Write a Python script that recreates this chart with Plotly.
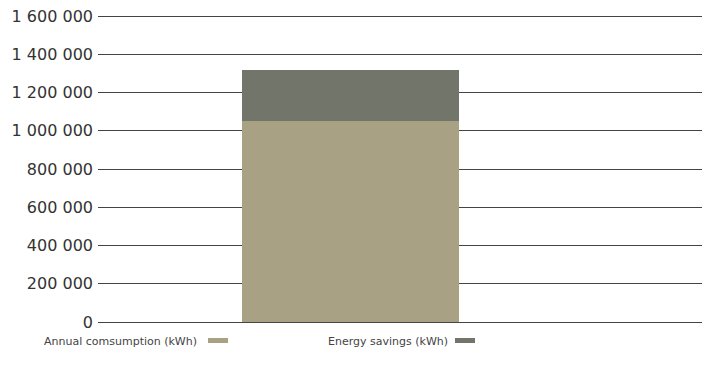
import plotly.graph_objects as go

# Values in kWh
categories = ["Building"]
annual_consumption = [1050000]
energy_savings = [270000]
y_ticks = [0, 200000, 400000, 600000, 800000, 1000000, 1200000, 1400000, 1600000]

series_names = ["Annual comsumption (kWh)", "Energy savings (kWh)"]
series_colors = ["#a8a184", "#72766a"]

fig = go.Figure()
fig.add_trace(go.Bar(x=[0], y=annual_consumption, name=series_names[0],
                     marker=dict(color=series_colors[0], line=dict(width=0)),
                     width=1, hoverinfo="y", customdata=categories))
fig.add_trace(go.Bar(x=[0], y=energy_savings, name=series_names[1],
                     marker=dict(color=series_colors[1], line=dict(width=0)),
                     width=1, hoverinfo="y", customdata=categories))

# Custom legend: label text followed by a colour swatch (pixel positions)
legend_items = [(42, 208), (326, 455)]
for (tx, sx), name, color in zip(legend_items, series_names, series_colors):
    fig.add_annotation(x=tx, y=341, xref="paper", yref="paper", text=name,
                       showarrow=False, xanchor="left", yanchor="middle",
                       font=dict(family="DejaVu Sans", size=11, color="#444"))
    fig.add_shape(type="rect", x0=sx, x1=sx + 20, y0=338, y1=343,
                  xref="paper", yref="paper", fillcolor=color, line=dict(width=0))

W, H = 705, 381
L, R, T, B = 98, 3, 14, 59
pw, ph = W - L - R, H - T - B
y_top = 1600000 * ph / 306.0  # small headroom so the top gridline is drawn

# convert pixel-based legend geometry into paper fractions
for ann in fig.layout.annotations:
    ann.x = (ann.x - L) / pw
    ann.y = (H - B - ann.y) / ph
for shp in fig.layout.shapes:
    shp.x0 = (shp.x0 - L) / pw
    shp.x1 = (shp.x1 - L) / pw
    y0, y1 = shp.y0, shp.y1
    shp.y0 = (H - B - y1) / ph
    shp.y1 = (H - B - y0) / ph

fig.update_layout(
    width=W, height=H,
    margin=dict(l=L, r=R, t=T, b=B),
    barmode="stack",
    showlegend=False,
    plot_bgcolor="white", paper_bgcolor="white",
    separators=". ",
    font=dict(family="DejaVu Sans", color="#333"),
    xaxis=dict(range=[-1.1606, 1.6147], showticklabels=False, showgrid=False,
               zeroline=False, showline=False, fixedrange=True),
    yaxis=dict(range=[0, y_top], tickvals=y_ticks, tickformat=",d",
               showgrid=True, gridcolor="#444", gridwidth=1,
               zeroline=True, zerolinecolor="#444", zerolinewidth=1,
               showline=False, ticks="", ticklabelstandoff=4,
               tickfont=dict(family="DejaVu Sans", size=16, color="#333"),
               layer="below traces"),
)

fig.write_html("out.html")
